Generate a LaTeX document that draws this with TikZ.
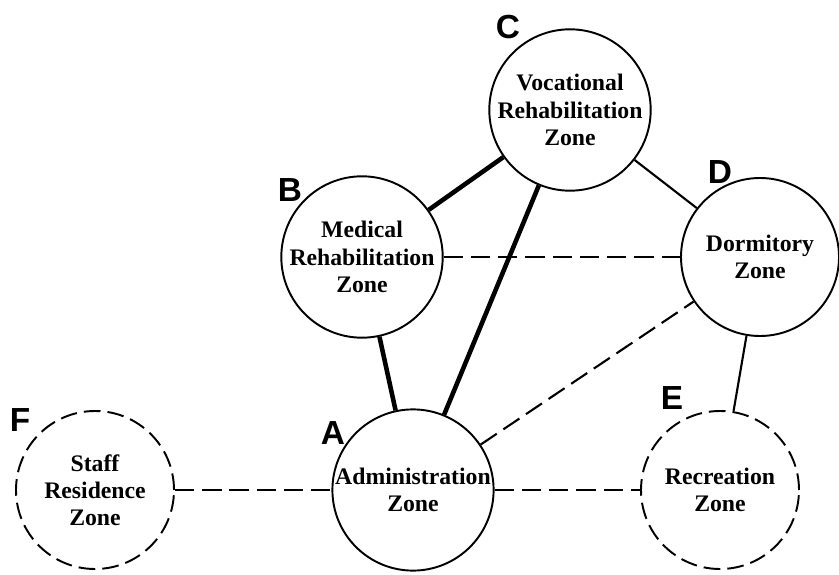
\documentclass[tikz,border=0pt]{standalone}
\usepackage{fontspec}
\setmainfont{Liberation Serif}
\setsansfont{Liberation Sans}
\usetikzlibrary{positioning}
\tikzset{
  every node/.style={font=\rmfamily\bfseries\fontsize{13.5}{15.5}\selectfont},
  zone/.style={circle, draw, line width=1.1pt, minimum size=3.16cm, inner sep=0pt, align=center},
  openzone/.style={zone, dash pattern=on 9.5pt off 4pt},
  tag/.style={font=\sffamily\bfseries\fontsize{19}{21}\selectfont},
  strong/.style={draw, line width=2.6pt},
  weak/.style={draw, line width=1.2pt},
  planned/.style={draw, line width=1.2pt, dash pattern=on 11pt off 4.5pt},
}
\begin{document}
\begin{tikzpicture}[x=1cm,y=1cm]
  \useasboundingbox (0,0) rectangle (16.78,-11.5);

  % Zones
  \node[zone] (C) at (11.4,-2.2) {Vocational\\Rehabilitation\\Zone};
  \node[zone] (B) at (7.24,-5.14) {Medical\\Rehabilitation\\Zone};
  \node[zone] (D) at (15.2,-5.14) {Dormitory\\Zone};
  \node[zone] (A) at (8.26,-9.8) {Administration\\Zone};
  \node[openzone] (E) at (14.4,-9.8) {Recreation\\Zone};
  \node[openzone] (F) at (1.9,-9.8) {Staff\\Residence\\Zone};

  % Letters
  \node[tag] (tagA) at (6.66,-8.66) {A};
  \node[tag] (tagB) at (5.8,-3.8) {B};
  \node[tag] (tagC) at (10.16,-0.54) {C};
  \node[tag] (tagD) at (14.4,-3.44) {D};
  \node[tag] (tagE) at (13.44,-7.96) {E};
  \node[tag] (tagF) at (0.4,-8.4) {F};

  % Strong links
  \draw[strong] (B) -- (C);
  \draw[strong] (B) -- (A);
  \draw[strong] (A) -- (C);

  % Weak links
  \draw[weak] (C) -- (D);
  \draw[weak] (D) -- (E);

  % Dashed links
  \draw[planned] (B.east) -- (D.west);
  \draw[planned] (A) -- (D);
  \draw[planned] (A.east) -- (E.west);
  \draw[planned] (F.east) -- (A.west);
\end{tikzpicture}
\end{document}
